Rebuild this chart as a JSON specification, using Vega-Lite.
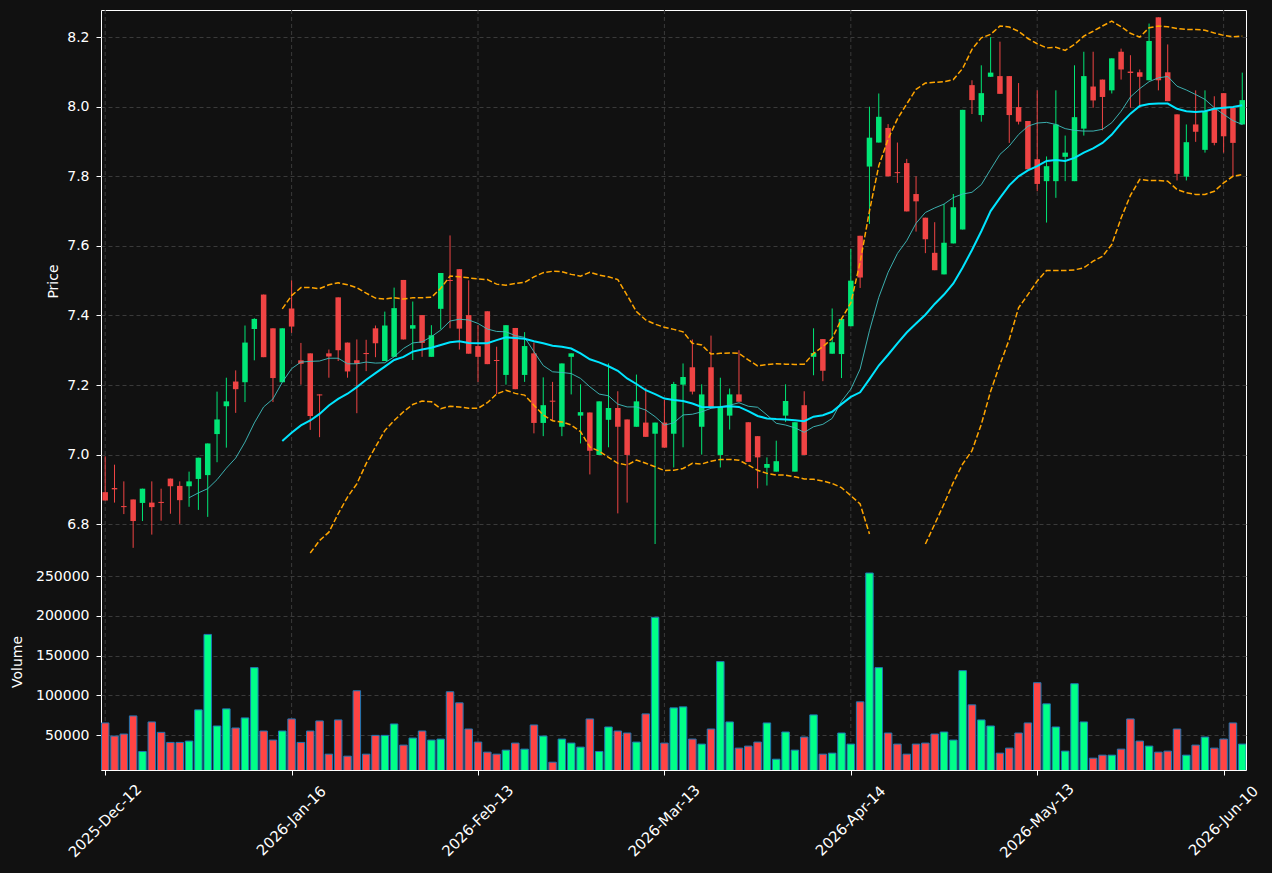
{
"$schema": "https://vega.github.io/schema/vega-lite/v6.json",
"width": 1145, "height": 760,
"autosize": {"type": "none"},
"padding": {"left": 101, "top": 10, "right": 26, "bottom": 103},
"background": "#111111",
"config": {
  "view": {"stroke": "#ffffff", "strokeWidth": 1},
  "axis": {"labelFont": "DejaVu Sans", "labelFontSize": 14, "labelColor": "#ffffff", "titleFont": "DejaVu Sans", "titleFontSize": 14, "titleColor": "#ffffff", "titleFontWeight": "normal", "tickColor": "#ffffff", "tickSize": 5, "domainColor": "#ffffff", "gridColor": "#3a3a3a", "gridDash": [4, 3], "gridWidth": 1}
},
"data": {"values": [
{"i":0,"o":6.892,"h":6.995,"l":6.868,"c":6.868,"v":65190},
{"i":1,"o":6.904,"h":6.971,"l":6.862,"c":6.900,"v":48730},
{"i":2,"o":6.852,"h":6.923,"l":6.829,"c":6.849,"v":51270},
{"i":3,"o":6.871,"h":6.871,"l":6.732,"c":6.809,"v":74050},
{"i":4,"o":6.861,"h":6.902,"l":6.809,"c":6.902,"v":29320},
{"i":5,"o":6.862,"h":6.923,"l":6.770,"c":6.849,"v":66460},
{"i":6,"o":6.864,"h":6.902,"l":6.810,"c":6.861,"v":53380},
{"i":7,"o":6.931,"h":6.931,"l":6.830,"c":6.909,"v":40720},
{"i":8,"o":6.910,"h":6.923,"l":6.801,"c":6.869,"v":40720},
{"i":9,"o":6.909,"h":6.951,"l":6.850,"c":6.923,"v":42400,"m10":6.876},
{"i":10,"o":6.930,"h":6.991,"l":6.841,"c":6.991,"v":81650,"m10":6.890},
{"i":11,"o":6.941,"h":7.032,"l":6.821,"c":7.032,"v":176580,"m10":6.902},
{"i":12,"o":7.059,"h":7.181,"l":6.978,"c":7.101,"v":61390,"m10":6.928},
{"i":13,"o":7.139,"h":7.221,"l":7.020,"c":7.153,"v":82910,"m10":6.961},
{"i":14,"o":7.210,"h":7.242,"l":7.120,"c":7.188,"v":58860,"m10":6.990},
{"i":15,"o":7.208,"h":7.371,"l":7.151,"c":7.322,"v":71520,"m10":7.036},
{"i":16,"o":7.361,"h":7.392,"l":7.271,"c":7.390,"v":134810,"m10":7.091},
{"i":17,"o":7.460,"h":7.460,"l":7.280,"c":7.280,"v":55060,"m10":7.137},
{"i":18,"o":7.363,"h":7.363,"l":7.151,"c":7.220,"v":43670,"m10":7.160},
{"i":19,"o":7.208,"h":7.363,"l":7.208,"c":7.363,"v":55060,"m10":7.208,"m20":7.039,"bu":7.419},
{"i":20,"o":7.420,"h":7.501,"l":7.350,"c":7.368,"v":70250,"m10":7.247,"m20":7.063,"bu":7.457},
{"i":21,"o":7.271,"h":7.321,"l":7.201,"c":7.261,"v":40720,"m10":7.266,"m20":7.084,"bu":7.480},
{"i":22,"o":7.291,"h":7.291,"l":7.071,"c":7.111,"v":55060,"m10":7.268,"m20":7.098,"bu":7.480,"bl":6.717},
{"i":23,"o":7.173,"h":7.173,"l":7.050,"c":7.170,"v":67720,"m10":7.269,"m20":7.117,"bu":7.477,"bl":6.753},
{"i":24,"o":7.291,"h":7.302,"l":7.221,"c":7.282,"v":25950,"m10":7.277,"m20":7.141,"bu":7.488,"bl":6.777},
{"i":25,"o":7.452,"h":7.452,"l":7.269,"c":7.300,"v":68990,"m10":7.277,"m20":7.160,"bu":7.494,"bl":6.830},
{"i":26,"o":7.322,"h":7.322,"l":7.221,"c":7.239,"v":23420,"m10":7.261,"m20":7.175,"bu":7.488,"bl":6.878},
{"i":27,"o":7.271,"h":7.331,"l":7.119,"c":7.261,"v":105700,"m10":7.261,"m20":7.194,"bu":7.480,"bl":6.916},
{"i":28,"o":7.292,"h":7.330,"l":7.240,"c":7.289,"v":25950,"m10":7.266,"m20":7.215,"bu":7.464,"bl":6.974},
{"i":29,"o":7.363,"h":7.371,"l":7.280,"c":7.320,"v":49580,"m10":7.263,"m20":7.234,"bu":7.450,"bl":7.022},
{"i":30,"o":7.269,"h":7.411,"l":7.269,"c":7.371,"v":49580,"m10":7.264,"m20":7.253,"bu":7.447,"bl":7.069},
{"i":31,"o":7.281,"h":7.480,"l":7.281,"c":7.421,"v":63920,"m10":7.281,"m20":7.272,"bu":7.451,"bl":7.098},
{"i":32,"o":7.502,"h":7.502,"l":7.331,"c":7.331,"v":37340,"m10":7.305,"m20":7.281,"bu":7.447,"bl":7.123},
{"i":33,"o":7.362,"h":7.440,"l":7.272,"c":7.372,"v":46200,"m10":7.321,"m20":7.296,"bu":7.451,"bl":7.144},
{"i":34,"o":7.401,"h":7.401,"l":7.281,"c":7.321,"v":55060,"m10":7.324,"m20":7.302,"bu":7.451,"bl":7.154},
{"i":35,"o":7.281,"h":7.372,"l":7.281,"c":7.343,"v":43670,"m10":7.339,"m20":7.307,"bu":7.452,"bl":7.152},
{"i":36,"o":7.419,"h":7.522,"l":7.360,"c":7.522,"v":44940,"m10":7.358,"m20":7.315,"bu":7.478,"bl":7.132},
{"i":37,"o":7.502,"h":7.630,"l":7.363,"c":7.499,"v":104430,"m10":7.384,"m20":7.323,"bu":7.513,"bl":7.139},
{"i":38,"o":7.533,"h":7.533,"l":7.302,"c":7.362,"v":90510,"m10":7.389,"m20":7.326,"bu":7.511,"bl":7.137},
{"i":39,"o":7.401,"h":7.501,"l":7.290,"c":7.290,"v":57590,"m10":7.387,"m20":7.321,"bu":7.508,"bl":7.133},
{"i":40,"o":7.312,"h":7.372,"l":7.209,"c":7.281,"v":41140,"m10":7.377,"m20":7.320,"bu":7.505,"bl":7.133},
{"i":41,"o":7.412,"h":7.412,"l":7.260,"c":7.260,"v":28480,"m10":7.361,"m20":7.320,"bu":7.503,"bl":7.149},
{"i":42,"o":7.272,"h":7.310,"l":7.174,"c":7.269,"v":25950,"m10":7.354,"m20":7.329,"bu":7.490,"bl":7.174},
{"i":43,"o":7.229,"h":7.372,"l":7.201,"c":7.372,"v":31010,"m10":7.353,"m20":7.337,"bu":7.487,"bl":7.185},
{"i":44,"o":7.364,"h":7.364,"l":7.188,"c":7.188,"v":39870,"m10":7.342,"m20":7.335,"bu":7.492,"bl":7.176},
{"i":45,"o":7.229,"h":7.352,"l":7.209,"c":7.312,"v":32280,"m10":7.337,"m20":7.333,"bu":7.495,"bl":7.171},
{"i":46,"o":7.291,"h":7.322,"l":7.061,"c":7.091,"v":62660,"m10":7.296,"m20":7.326,"bu":7.511,"bl":7.142},
{"i":47,"o":7.091,"h":7.222,"l":7.053,"c":7.142,"v":48730,"m10":7.256,"m20":7.320,"bu":7.523,"bl":7.114},
{"i":48,"o":7.155,"h":7.209,"l":7.099,"c":7.152,"v":15820,"m10":7.238,"m20":7.313,"bu":7.527,"bl":7.097},
{"i":49,"o":7.080,"h":7.262,"l":7.053,"c":7.262,"v":44940,"m10":7.236,"m20":7.310,"bu":7.526,"bl":7.094},
{"i":50,"o":7.281,"h":7.291,"l":7.173,"c":7.291,"v":39870,"m10":7.233,"m20":7.305,"bu":7.518,"bl":7.085},
{"i":51,"o":7.112,"h":7.202,"l":7.032,"c":7.122,"v":34810,"m10":7.219,"m20":7.291,"bu":7.513,"bl":7.066},
{"i":52,"o":7.121,"h":7.121,"l":6.943,"c":7.011,"v":70250,"m10":7.195,"m20":7.274,"bu":7.524,"bl":7.022},
{"i":53,"o":6.999,"h":7.153,"l":6.999,"c":7.153,"v":29320,"m10":7.174,"m20":7.265,"bu":7.516,"bl":7.010},
{"i":54,"o":7.100,"h":7.262,"l":7.021,"c":7.134,"v":60130,"m10":7.169,"m20":7.254,"bu":7.511,"bl":6.992},
{"i":55,"o":7.134,"h":7.182,"l":6.831,"c":7.080,"v":55060,"m10":7.145,"m20":7.241,"bu":7.503,"bl":6.975},
{"i":56,"o":7.101,"h":7.101,"l":6.862,"c":6.999,"v":52530,"m10":7.137,"m20":7.219,"bu":7.458,"bl":6.970},
{"i":57,"o":7.080,"h":7.230,"l":7.080,"c":7.153,"v":41140,"m10":7.137,"m20":7.203,"bu":7.411,"bl":6.984},
{"i":58,"o":7.092,"h":7.192,"l":7.051,"c":7.051,"v":76580,"m10":7.128,"m20":7.185,"bu":7.387,"bl":6.975},
{"i":59,"o":7.060,"h":7.092,"l":6.743,"c":7.092,"v":198100,"m10":7.109,"m20":7.174,"bu":7.375,"bl":6.965},
{"i":60,"o":7.092,"h":7.157,"l":7.020,"c":7.020,"v":39870,"m10":7.085,"m20":7.161,"bu":7.366,"bl":6.954},
{"i":61,"o":7.060,"h":7.209,"l":6.963,"c":7.203,"v":84180,"m10":7.091,"m20":7.157,"bu":7.360,"bl":6.955},
{"i":62,"o":7.201,"h":7.262,"l":7.021,"c":7.223,"v":85440,"m10":7.114,"m20":7.154,"bu":7.353,"bl":6.960},
{"i":63,"o":7.251,"h":7.331,"l":7.173,"c":7.181,"v":44940,"m10":7.116,"m20":7.147,"bu":7.320,"bl":6.975},
{"i":64,"o":7.080,"h":7.202,"l":7.000,"c":7.173,"v":38610,"m10":7.123,"m20":7.137,"bu":7.315,"bl":6.973},
{"i":65,"o":7.251,"h":7.342,"l":7.137,"c":7.137,"v":57590,"m10":7.133,"m20":7.136,"bu":7.289,"bl":6.981},
{"i":66,"o":6.999,"h":7.221,"l":6.963,"c":7.137,"v":142410,"m10":7.137,"m20":7.137,"bu":7.291,"bl":6.986},
{"i":67,"o":7.112,"h":7.190,"l":7.072,"c":7.173,"v":66460,"m10":7.142,"m20":7.139,"bu":7.292,"bl":6.986},
{"i":68,"o":7.173,"h":7.300,"l":7.152,"c":7.152,"v":33540,"m10":7.149,"m20":7.137,"bu":7.291,"bl":6.984},
{"i":69,"o":7.093,"h":7.093,"l":6.979,"c":6.979,"v":36080,"m10":7.139,"m20":7.125,"bu":7.272,"bl":6.970},
{"i":70,"o":7.053,"h":7.053,"l":6.903,"c":6.992,"v":41140,"m10":7.136,"m20":7.111,"bu":7.255,"bl":6.955},
{"i":71,"o":6.962,"h":6.992,"l":6.911,"c":6.973,"v":65190,"m10":7.114,"m20":7.104,"bu":7.259,"bl":6.946},
{"i":72,"o":6.951,"h":7.040,"l":6.951,"c":6.981,"v":19620,"m10":7.090,"m20":7.102,"bu":7.261,"bl":6.941},
{"i":73,"o":7.112,"h":7.202,"l":7.094,"c":7.154,"v":53800,"m10":7.085,"m20":7.101,"bu":7.260,"bl":6.941},
{"i":74,"o":6.951,"h":7.093,"l":6.951,"c":7.093,"v":31010,"m10":7.077,"m20":7.099,"bu":7.259,"bl":6.936},
{"i":75,"o":7.142,"h":7.182,"l":6.999,"c":6.999,"v":47470,"m10":7.064,"m20":7.096,"bu":7.260,"bl":6.930},
{"i":76,"o":7.281,"h":7.363,"l":7.228,"c":7.292,"v":75320,"m10":7.080,"m20":7.109,"bu":7.291,"bl":6.929},
{"i":77,"o":7.332,"h":7.332,"l":7.211,"c":7.241,"v":25950,"m10":7.087,"m20":7.113,"bu":7.310,"bl":6.924},
{"i":78,"o":7.290,"h":7.420,"l":7.290,"c":7.323,"v":27210,"m10":7.104,"m20":7.123,"bu":7.334,"bl":6.917},
{"i":79,"o":7.289,"h":7.390,"l":7.220,"c":7.390,"v":52530,"m10":7.153,"m20":7.145,"bu":7.390,"bl":6.905},
{"i":80,"o":7.369,"h":7.591,"l":7.369,"c":7.500,"v":38610,"m10":7.188,"m20":7.166,"bu":7.436,"bl":6.882},
{"i":81,"o":7.629,"h":7.629,"l":7.479,"c":7.509,"v":91770,"m10":7.246,"m20":7.179,"bu":7.553,"bl":6.858},
{"i":82,"o":7.828,"h":8.000,"l":7.663,"c":7.911,"v":253800,"m10":7.356,"m20":7.217,"bu":7.700,"bl":6.772},
{"i":83,"o":7.897,"h":8.038,"l":7.897,"c":7.971,"v":134810,"m10":7.452,"m20":7.256,"bu":7.830},
{"i":84,"o":7.939,"h":7.950,"l":7.800,"c":7.800,"v":52530,"m10":7.524,"m20":7.287,"bu":7.907},
{"i":85,"o":7.812,"h":7.897,"l":7.781,"c":7.809,"v":38610,"m10":7.578,"m20":7.320,"bu":7.965},
{"i":86,"o":7.838,"h":7.850,"l":7.699,"c":7.699,"v":25950,"m10":7.615,"m20":7.351,"bu":8.008},
{"i":87,"o":7.749,"h":7.800,"l":7.641,"c":7.728,"v":38610,"m10":7.665,"m20":7.377,"bu":8.050},
{"i":88,"o":7.681,"h":7.681,"l":7.579,"c":7.619,"v":39870,"m10":7.696,"m20":7.402,"bu":8.068,"bl":6.743},
{"i":89,"o":7.580,"h":7.668,"l":7.530,"c":7.530,"v":51270,"m10":7.709,"m20":7.433,"bu":8.070,"bl":6.800},
{"i":90,"o":7.518,"h":7.720,"l":7.518,"c":7.609,"v":53800,"m10":7.720,"m20":7.460,"bu":8.072,"bl":6.858},
{"i":91,"o":7.607,"h":7.749,"l":7.607,"c":7.711,"v":43670,"m10":7.739,"m20":7.492,"bu":8.078,"bl":6.920},
{"i":92,"o":7.647,"h":7.991,"l":7.647,"c":7.991,"v":131010,"m10":7.749,"m20":7.538,"bu":8.110,"bl":6.973},
{"i":93,"o":8.062,"h":8.076,"l":7.979,"c":8.019,"v":87970,"m10":7.754,"m20":7.588,"bu":8.165,"bl":7.011},
{"i":94,"o":7.976,"h":8.119,"l":7.957,"c":8.039,"v":68990,"m10":7.776,"m20":7.642,"bu":8.198,"bl":7.087},
{"i":95,"o":8.086,"h":8.200,"l":8.086,"c":8.098,"v":61390,"m10":7.820,"m20":7.700,"bu":8.208,"bl":7.182},
{"i":96,"o":8.088,"h":8.187,"l":8.037,"c":8.037,"v":27210,"m10":7.863,"m20":7.738,"bu":8.232,"bl":7.259},
{"i":97,"o":8.088,"h":8.088,"l":7.896,"c":7.976,"v":33540,"m10":7.887,"m20":7.774,"bu":8.229,"bl":7.331},
{"i":98,"o":7.999,"h":8.068,"l":7.949,"c":7.957,"v":52530,"m10":7.920,"m20":7.800,"bu":8.217,"bl":7.422},
{"i":99,"o":7.959,"h":7.959,"l":7.820,"c":7.820,"v":65190,"m10":7.944,"m20":7.817,"bu":8.196,"bl":7.460},
{"i":100,"o":7.849,"h":8.047,"l":7.757,"c":7.778,"v":115820,"m10":7.953,"m20":7.829,"bu":8.181,"bl":7.499},
{"i":101,"o":7.786,"h":7.857,"l":7.667,"c":7.829,"v":89240,"m10":7.955,"m20":7.844,"bu":8.169,"bl":7.529},
{"i":102,"o":7.786,"h":8.047,"l":7.738,"c":7.949,"v":60130,"m10":7.949,"m20":7.847,"bu":8.171,"bl":7.529},
{"i":103,"o":7.856,"h":7.917,"l":7.786,"c":7.868,"v":29750,"m10":7.937,"m20":7.844,"bu":8.162,"bl":7.529},
{"i":104,"o":7.786,"h":8.119,"l":7.786,"c":7.970,"v":114560,"m10":7.932,"m20":7.853,"bu":8.179,"bl":7.531},
{"i":105,"o":7.937,"h":8.158,"l":7.917,"c":8.088,"v":66460,"m10":7.930,"m20":7.868,"bu":8.203,"bl":7.537},
{"i":106,"o":8.058,"h":8.158,"l":7.997,"c":8.018,"v":20890,"m10":7.930,"m20":7.880,"bu":8.217,"bl":7.556},
{"i":107,"o":8.078,"h":8.078,"l":7.932,"c":8.028,"v":24690,"m10":7.935,"m20":7.896,"bu":8.232,"bl":7.570},
{"i":108,"o":8.047,"h":8.139,"l":8.038,"c":8.139,"v":24690,"m10":7.954,"m20":7.920,"bu":8.246,"bl":7.604},
{"i":109,"o":8.158,"h":8.167,"l":8.078,"c":8.107,"v":32280,"m10":7.987,"m20":7.952,"bu":8.230,"bl":7.680},
{"i":110,"o":8.101,"h":8.148,"l":7.997,"c":8.097,"v":70250,"m10":8.028,"m20":7.980,"bu":8.211,"bl":7.745},
{"i":111,"o":8.099,"h":8.107,"l":7.997,"c":8.086,"v":42400,"m10":8.052,"m20":8.002,"bu":8.200,"bl":7.791},
{"i":112,"o":8.076,"h":8.239,"l":8.076,"c":8.189,"v":36080,"m10":8.072,"m20":8.008,"bu":8.227,"bl":7.788},
{"i":113,"o":8.257,"h":8.257,"l":8.047,"c":8.076,"v":28480,"m10":8.083,"m20":8.009,"bu":8.232,"bl":7.788},
{"i":114,"o":8.099,"h":8.179,"l":8.016,"c":8.016,"v":29750,"m10":8.087,"m20":8.009,"bu":8.230,"bl":7.786},
{"i":115,"o":7.978,"h":7.978,"l":7.788,"c":7.807,"v":57590,"m10":8.059,"m20":7.994,"bu":8.225,"bl":7.762},
{"i":116,"o":7.799,"h":7.949,"l":7.788,"c":7.898,"v":24690,"m10":8.048,"m20":7.987,"bu":8.222,"bl":7.753},
{"i":117,"o":7.949,"h":8.047,"l":7.899,"c":7.928,"v":37340,"m10":8.035,"m20":7.985,"bu":8.222,"bl":7.748},
{"i":118,"o":7.876,"h":8.047,"l":7.868,"c":7.987,"v":47470,"m10":8.021,"m20":7.987,"bu":8.220,"bl":7.748},
{"i":119,"o":7.997,"h":8.030,"l":7.889,"c":7.896,"v":33540,"m10":7.997,"m20":7.994,"bu":8.212,"bl":7.757},
{"i":120,"o":8.039,"h":8.039,"l":7.868,"c":7.915,"v":44940,"m10":7.978,"m20":7.997,"bu":8.205,"bl":7.781},
{"i":121,"o":7.997,"h":7.997,"l":7.799,"c":7.896,"v":65190,"m10":7.960,"m20":7.999,"bu":8.201,"bl":7.800},
{"i":122,"o":7.949,"h":8.098,"l":7.949,"c":8.019,"v":38610,"m10":7.949,"m20":8.004,"bu":8.203,"bl":7.805}
]},
"encoding": {
  "x": {"field": "i", "type": "quantitative",
    "scale": {"domain": [-0.45, 122.4], "nice": false, "zero": false, "padding": 0},
    "axis": {"values": [0, 20, 40, 60, 80, 100, 120], "title": null, "grid": false, "domain": false,
      "labelExpr": "datum.value == 0 ? '2025-Dec-12' : datum.value == 20 ? '2026-Jan-16' : datum.value == 40 ? '2026-Feb-13' : datum.value == 60 ? '2026-Mar-13' : datum.value == 80 ? '2026-Apr-14' : datum.value == 100 ? '2026-May-13' : '2026-Jun-10'",
      "labelAngle": -45, "labelAlign": "center", "labelBaseline": "middle", "labelPadding": 46, "labelFontSize": 14.8,
      "labelFlush": false, "labelOverlap": false, "labelBound": false}}
},
"resolve": {"scale": {"y": "independent"}, "axis": {"y": "independent"}},
"layer": [
  {"layer": [
    {"data": {"values": [{"t": 0}, {"t": 20}, {"t": 40}, {"t": 60}, {"t": 80}, {"t": 100}, {"t": 120}]},
     "mark": {"type": "rule", "color": "#3a3a3a", "strokeWidth": 1, "strokeDash": [4, 3]},
     "encoding": {"x": {"field": "t", "type": "quantitative"}}},
    {"mark": {"type": "rule", "strokeWidth": 1},
     "encoding": {
       "y": {"field": "l", "type": "quantitative",
         "scale": {"domain": [6.72, 8.278], "range": [542, 0], "nice": false, "zero": false},
         "axis": {"orient": "left", "values": [6.8, 7.0, 7.2, 7.4, 7.6, 7.8, 8.0, 8.2], "format": ".1f", "title": "Price", "labelPadding": 7, "titlePadding": 6, "grid": true, "domain": false}},
       "y2": {"field": "h"},
       "color": {"condition": {"test": "datum.c >= datum.o", "value": "#00e676"}, "value": "#ef4444"}}},
    {"mark": {"type": "bar", "width": 5.5},
     "encoding": {
       "y": {"field": "o", "type": "quantitative"},
       "y2": {"field": "c"},
       "color": {"condition": {"test": "datum.c >= datum.o", "value": "#00e676"}, "value": "#ef4444"}}},
    {"mark": {"type": "line", "color": "#3fbfbf", "strokeWidth": 1, "opacity": 0.9},
     "encoding": {"y": {"field": "m10", "type": "quantitative"}}},
    {"mark": {"type": "line", "color": "#00e5ff", "strokeWidth": 2},
     "encoding": {"y": {"field": "m20", "type": "quantitative"}}},
    {"mark": {"type": "line", "color": "#ffa500", "strokeWidth": 1.5, "strokeDash": [5.5, 2.4]},
     "encoding": {"y": {"field": "bu", "type": "quantitative"}}},
    {"mark": {"type": "line", "color": "#ffa500", "strokeWidth": 1.5, "strokeDash": [5.5, 2.4], "invalid": "break-paths-filter-domains"},
     "encoding": {"y": {"field": "bl", "type": "quantitative"}}}
  ]},
  {"layer": [
    {"mark": {"type": "bar", "width": 7.5, "stroke": "#1f77b4", "strokeWidth": 1, "clip": true},
     "encoding": {
       "y": {"field": "v", "type": "quantitative",
         "scale": {"domain": [6000, 279000], "range": [760, 543], "nice": false, "zero": false},
         "axis": {"orient": "left", "values": [50000, 100000, 150000, 200000, 250000], "format": "d", "title": "Volume", "labelPadding": 7, "titlePadding": 11, "grid": true, "domain": false}},
       "color": {"condition": {"test": "datum.c >= datum.o", "value": "#00ff88"}, "value": "#ff4444"}}},
    {"data": {"values": [{"edge": 279000}]},
     "mark": {"type": "rule", "color": "#ffffff", "strokeWidth": 1.5},
     "encoding": {"x": {"datum": -0.45}, "x2": {"datum": 122.4}, "y": {"field": "edge", "type": "quantitative"}}}
  ]}
]
}
